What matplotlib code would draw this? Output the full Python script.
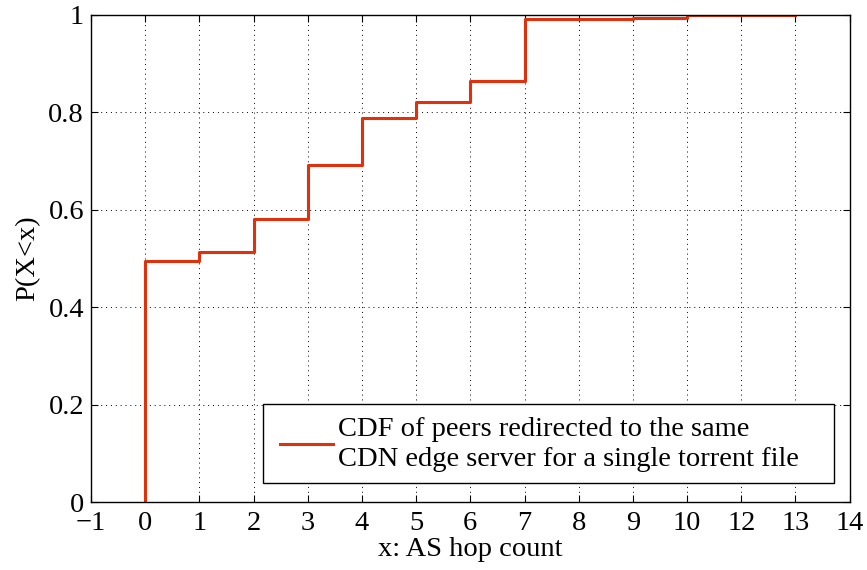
import numpy as np
from matplotlib import pyplot as plt
from matplotlib.patches import Rectangle

plt.rcParams['font.family'] = ['Liberation Serif', 'DejaVu Serif']

# hop count positions on the axis and the cumulative fraction reached at each
hop_pos = [0, 0, 1, 2, 3, 4, 5, 6, 7, 8, 9, 10, 11, 12]
cdf_vals = [0.0, 0.495, 0.513, 0.582, 0.692, 0.788, 0.822, 0.865, 0.991, 0.992, 0.994, 0.999, 0.9995, 1.0]

# tick labels as printed (the original skips 11)
xtick_pos = list(range(-1, 14))
xtick_labels = ['\u22121', '0', '1', '2', '3', '4', '5', '6', '7', '8', '9', '10', '12', '13', '14']
ytick_pos = [0, 0.2, 0.4, 0.6, 0.8, 1.0]
ytick_labels = ['0', '0.2', '0.4', '0.6', '0.8', '1']

legend_text = 'CDF of peers redirected to the same\nCDN edge server for a single torrent file'

#creating figure
fig = plt.figure(figsize=[8.67, 5.70], dpi=100)
ax = fig.add_axes([0.105, 0.119, 0.875, 0.855])

ax.plot(hop_pos, cdf_vals, drawstyle='steps-post', color='#e0300c', lw=2.2, label=legend_text)

#formatting
ax.set_xlim(-1, 13)
ax.set_ylim(0, 1)
ax.set_xticks(xtick_pos)
ax.set_xticklabels(xtick_labels)
ax.set_yticks(ytick_pos)
ax.set_yticklabels(ytick_labels)
ax.tick_params(direction='in', top=True, right=True, labelsize=20.5, length=5, width=0.8)
ax.tick_params(axis='x', pad=6)
ax.tick_params(axis='y', pad=5)
ax.grid(True, linestyle=(0, (1, 4)), color='black', linewidth=0.7)
for s in ax.spines.values():
    s.set_linewidth(1.0)

ax.set_xlabel('x: AS hop count', size=20.5, labelpad=1)
ax.set_ylabel('P(X<x)', size=20.5, labelpad=6)

# matlab-style legend box: wider padding left/right than top/bottom
box = Rectangle((0.2266, 0.039), 0.7534, 0.162, transform=ax.transAxes,
                facecolor='white', edgecolor='black', linewidth=1.0, zorder=4)
ax.add_patch(box)
leg = ax.legend(loc='center left', fontsize=20.5, handlelength=1.85, handletextpad=0.2,
                frameon=False, borderpad=0, borderaxespad=0,
                bbox_to_anchor=(0.249, 0.119))
leg.set_zorder(5)
for t in leg.get_texts():
    t.set_linespacing(1.25)

fig.savefig('out.png', dpi=100)
